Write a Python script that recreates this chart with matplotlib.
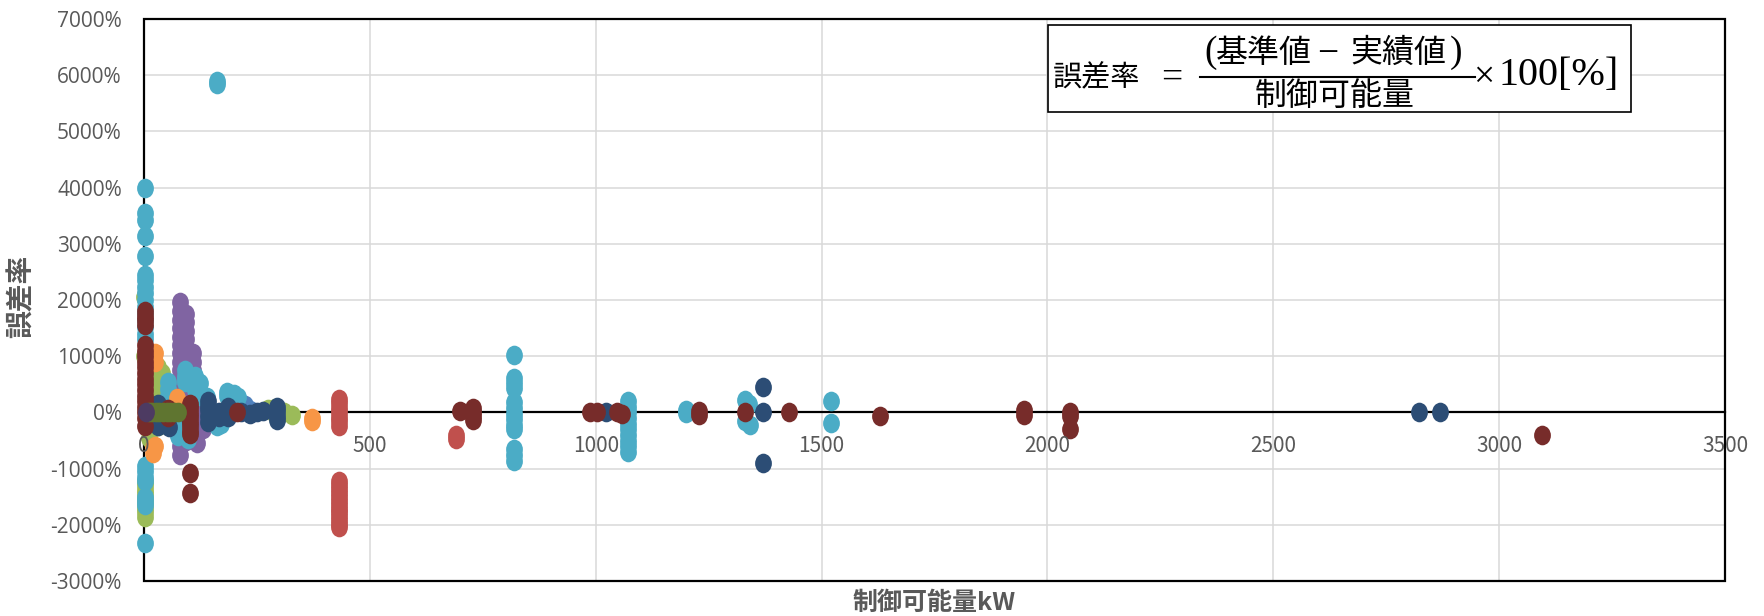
import matplotlib
matplotlib.use('Agg')
import matplotlib.pyplot as plt
from matplotlib.path import Path
from matplotlib.patches import Rectangle
from matplotlib.lines import Line2D
from matplotlib.ticker import FuncFormatter

plt.rcParams['font.family'] = ['Noto Sans CJK JP', 'DejaVu Sans']

# 系列ごとのデータ: (制御可能量kW, [誤差率%, ...])
s1_blue = [(224, [130]), (235, [40])]
s2_red = [(432, [240, 160, 80, 0, -80, -160, -240,
                 -1220, -1290, -1360, -1430, -1500, -1570, -1640,
                 -1710, -1780, -1850, -1920, -1990, -2040]),
          (691, [-400, -470])]
s3_green = [(0, [2050, 1000]),
            (3, [-1220, -1300, -1380, -1460, -1540, -1620, -1700, -1780, -1860]),
            (12, [880, 760, 640, 520, 400, 280, 160, 40, -80, -200, -300, -450]),
            (30, [800, 650, 500, 350, 200, 50, -100, -250]),
            (40, [700, 560]),
            (275, [60]), (290, [-20, 80]), (310, [10]), (328, [-40])]
s4_purple = [(80, [1970, 1800, 1650, 1500, 1350, 1200, 1050, 900, 750, 600, 450,
                   300, 150, 0, -150, -300, -450, -600, -750]),
             (92, [1750, 1600, 1450, 1300, 1150, 1000, 850, 700, 550, 400, 250,
                   100, -50, -200, -350, -500]),
             (108, [1050, 900, 750, 600, 450, 300, 150, 0, -150, -300, -450]),
             (117, [-550]), (130, [-300]), (161, [-210])]
s5_cyan = [(3, [4000, 3550, 3420, 3140, 2780, 2440, 2350, 2240, 2120, 2000, 1880,
                1760, 1640, 1520, 1400, 1300, -950, -1050, -1150, -1220, -1500,
                -1580, -1650, -2330]),
           (53, [540, 420, 300, 180, 60, -60, -100]),
           (75, [-100, -300, -420]), (90, [600, 540, 650, 750]), (97, [-250, -480]),
           (113, [640, 400]), (124, [520, 300]), (139, [270]), (161, [-250]),
           (170, [-210]), (183, [370, 300]), (200, [330]), (208, [280]),
           (161, [5850, 5900]),
           (820, [1020, 620, 520, 430, 180, 80, -20, -120, -220, -300, -650, -760, -870]),
           (1072, [200, 100, 0, -100, -200, -300, -400, -500, -600, -700]),
           (1200, [40, -10]),
           (1331, [220, -150]), (1340, [150]), (1342, [-230]),
           (1521, [200, -180])]
s6_orange = [(24, [1050, 900]), (24, [-600]), (20, [-640, -720]), (72, [250]),
             (75, [200]), (371, [-100, -150])]
s7_navy = [(30, [150, 0, -150, -250]), (55, [-260]), (100, [-100, 0]),
           (142, [200, 120, 40, -60, -170]), (165, [0, -80]), (186, [100, -80]),
           (215, [0]), (235, [-20]), (250, [0]), (264, [20]),
           (294, [100, 20, -60, -140]),
           (1023, [0]), (1370, [460, 0, -900]), (2823, [0]), (2870, [0])]
s8_maroon = [(2, [1800, 1720, 1640, 1560, 1200, 1100, 1000, 900, 800, 700, 600,
                  500, 400, 300, 200, 100, 0, -100, -240]),
             (53, [60, 0, -80]),
             (102, [150, 70, -10, -90, -170, -250, -330, -380, -1080, -1440]),
             (205, [0]), (700, [20]), (729, [80, 0, -60, -130]),
             (988, [0]), (1003, [0]), (1047, [0]), (1058, [-20]),
             (1229, [20, -40]), (1331, [0]), (1429, [0]), (1630, [-70]),
             (1949, [50, -40]), (2050, [0, -60, -290]), (3094, [-400])]
s9_olive = [(10, [0]), (18, [0]), (26, [0]), (34, [0]), (42, [0]), (50, [0]),
            (58, [0]), (66, [0]), (75, [0])]
s10_plum = [(5, [0])]

series = [
    (s1_blue, '#4F81BD'),
    (s2_red, '#C0504D'),
    (s3_green, '#9BBB59'),
    (s4_purple, '#8064A2'),
    (s5_cyan, '#4BACC6'),
    (s6_orange, '#F79646'),
    (s7_navy, '#2C4D75'),
    (s8_maroon, '#772C2A'),
    (s9_olive, '#5F7530'),
    (s10_plum, '#4D3B62'),
]

x_ticks = [0, 500, 1000, 1500, 2000, 2500, 3000, 3500]
y_ticks = [-3000, -2000, -1000, 0, 1000, 2000, 3000, 4000, 5000, 6000, 7000]

W, H = 1765, 616
GRAY = '#595959'


def expand(groups):
    xs, ys = [], []
    for x, vals in groups:
        xs += [x] * len(vals)
        ys += vals
    return xs, ys


def fx(px):
    return px / W


def fy(py):
    return 1 - py / H


fig = plt.figure(figsize=(W / 100, H / 100), dpi=100)
ax = fig.add_axes([fx(144), fy(581), (1725 - 144) / W, (581 - 19) / H])

# 少し縦長の丸マーカー
circle = Path.unit_circle()
oval = Path(circle.vertices * [1.0, 1.17], circle.codes)

for groups, color in series:
    xs, ys = expand(groups)
    ax.scatter(xs, ys, marker=oval, s=200, color=color, linewidths=0,
               clip_on=False, zorder=3)

ax.set_xlim(x_ticks[0], x_ticks[-1])
ax.set_ylim(y_ticks[0], y_ticks[-1])
ax.set_xticks(x_ticks)
ax.set_yticks(y_ticks)
ax.yaxis.set_major_formatter(FuncFormatter(lambda v, p: f'{int(v)}%'))
ax.tick_params(axis='both', length=0, labelsize=15, labelcolor=GRAY)
ax.tick_params(axis='y', pad=16)
ax.tick_params(axis='x', pad=16)
for lab in ax.get_xticklabels() + ax.get_yticklabels():
    lab.set_family(['Open Sans', 'DejaVu Sans'])

# 目盛線はマーカーの下、軸の数字はマーカーの上
for x in x_ticks[1:-1]:
    ax.axvline(x, color='#D9D9D9', lw=1.1, zorder=0.5)
for y in y_ticks[1:-1]:
    ax.axhline(y, color='#D9D9D9', lw=1.1, zorder=0.5)
ax.xaxis.set_zorder(4)

for side in ['left', 'top', 'right']:
    ax.spines[side].set_visible(False)
ax.spines['bottom'].set_position(('data', 0))
ax.spines['bottom'].set_linewidth(1.6)
ax.spines['bottom'].set_color('black')
ax.spines['bottom'].set_zorder(2.5)
ax.add_patch(Rectangle((0, 0), 1, 1, transform=ax.transAxes, fill=False,
                       ec='black', lw=1.6, zorder=2.6, clip_on=False))

# 軸ラベル
fig.text(fx(22), fy(296), '誤差率', rotation=90, ha='center', va='center',
         fontsize=20, fontweight='bold', color=GRAY)
fig.text(fx(934), fy(603), '制御可能量kW', ha='center', va='center',
         fontsize=18, fontweight='bold', color=GRAY)

# 誤差率の定義式
fig.patches.append(Rectangle((fx(1048), fy(112)), (1631 - 1048) / W, (112 - 25) / H,
                             transform=fig.transFigure, fc='white', ec='black',
                             lw=1.2, zorder=1))
serif = ['Liberation Serif', 'DejaVu Serif']
cjk = ['Noto Sans CJK JP']
parts = [
    ('誤差率', 1097, 78, cjk, 21, 'center'),
    ('=', 1172, 78, serif, 27, 'center'),
    ('(', 1211, 53, serif, 27, 'center'),
    ('基準値', 1264, 53, cjk, 23, 'center'),
    ('\u2212', 1328, 55, serif, 27, 'center'),
    ('実績値', 1398, 53, cjk, 23, 'center'),
    (')', 1456, 53, serif, 27, 'center'),
    ('制御可能量', 1335, 96, cjk, 23, 'center'),
    ('\u00d7', 1484, 78, serif, 27, 'center'),
    ('100[%]', 1499, 76, serif, 29, 'left'),
]
for txt, px, py, fam, size, ha in parts:
    fig.text(fx(px), fy(py), txt, ha=ha, va='center', family=fam,
             fontsize=size, color='black', zorder=3)
fig.lines.append(Line2D([fx(1200), fx(1475)], [fy(77), fy(77)],
                        transform=fig.transFigure, color='black', lw=1.5, zorder=3))

fig.savefig('out.png', dpi=100)
